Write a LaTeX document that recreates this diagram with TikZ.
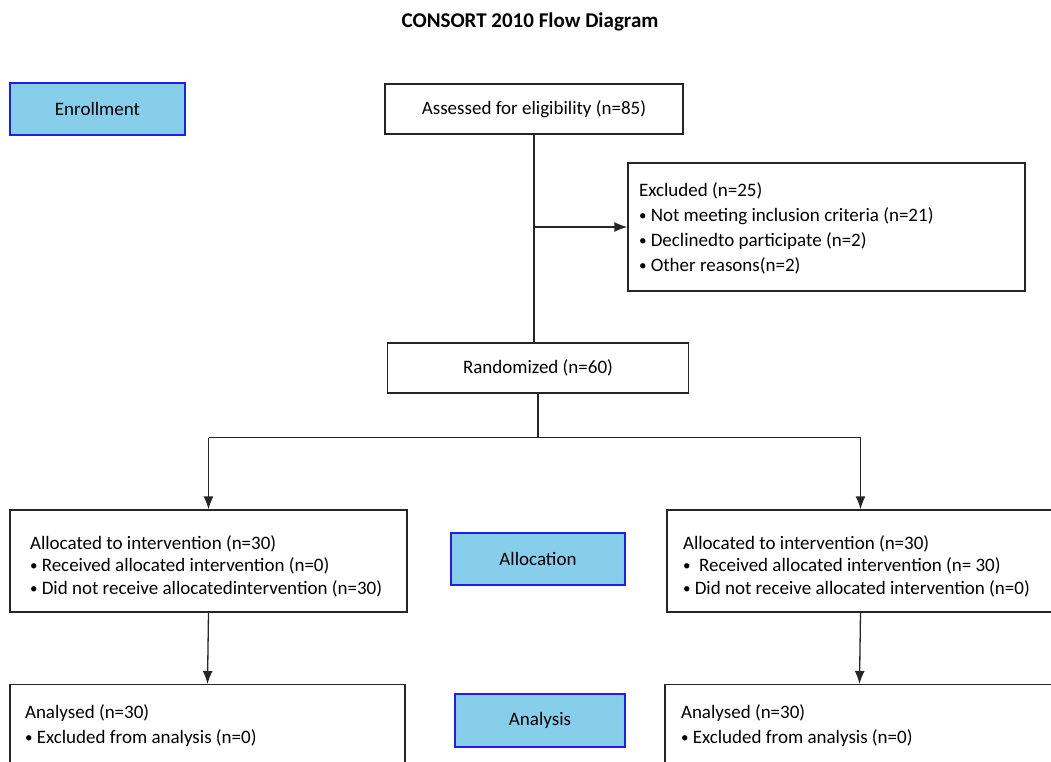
\documentclass[tikz,border=0pt]{standalone}
\usepackage{fontspec}
\setmainfont{Carlito}
\usetikzlibrary{arrows.meta}
\definecolor{phasefill}{HTML}{87CEEB}
\definecolor{phaseline}{HTML}{1E1EF0}
\newcommand{\listdot}{\raisebox{1pt}{\fontsize{15}{15}\selectfont •}}
\tikzset{
  flowbox/.style={draw=black!85, line width=1.3pt, fill=white, inner sep=0pt,
    font=\fontsize{19}{22}\selectfont},
  listbox/.style={flowbox, align=flush left, text width=#1},
  phasebox/.style={draw=phaseline, line width=1.3pt, fill=phasefill, inner sep=0pt,
    font=\fontsize{19}{22}\selectfont},
  flowline/.style={line width=1.3pt, black!85},
  flowarrow/.style={flowline, -{Latex[length=13pt,width=10pt]}}
}
\begin{document}
\begin{tikzpicture}[x=1pt,y=-1pt]
    \useasboundingbox (0,0) rectangle (1051,761);
    \clip (0,0) rectangle (1051,761);
    % Title
    \node[font=\fontsize{21}{24}\selectfont\bfseries] (title) at (530,22) {CONSORT 2010 Flow Diagram};
    % Phase labels
    \node[phasebox, minimum width=175, minimum height=52] (enroll) at (97.5,109) {Enrollment};
    \node[phasebox, minimum width=174, minimum height=52] (allocation) at (538,559) {Allocation};
    \node[phasebox, minimum width=170, minimum height=53] (analysis) at (540,720.5) {Analysis};
    % Enrollment
    \node[flowbox, minimum width=298, minimum height=50] (assess) at (534,109) {Assessed for eligibility (n=85)};
    \node[listbox=375, minimum width=397, minimum height=128, inner xsep=11,
          font=\fontsize{19}{25}\selectfont] (excl) at (826.5,227)
        {\rule{0pt}{16pt}Excluded (n=25)\\
         \listdot{} Not meeting inclusion criteria (n=21)\\
         \listdot{} Declinedto participate (n=2)\\
         \listdot{} Other reasons(n=2)};
    \node[flowbox, minimum width=301, minimum height=50] (rand) at (538,368) {Randomized (n=60)};
    % Allocation
    \node[listbox=357, minimum width=397, minimum height=102, inner xsep=20,
          font=\fontsize{19}{22.5}\selectfont] (allocL) at (208.5,561)
        {\rule{0pt}{24pt}Allocated to intervention (n=30)\\
         \listdot{} Received allocated intervention (n=0)\\
         \listdot{} Did not receive allocatedintervention (n=30)};
    \node[listbox=355, minimum width=387, minimum height=102, inner xsep=16,
          font=\fontsize{19}{22.5}\selectfont] (allocR) at (860.5,561)
        {\rule{0pt}{24pt}Allocated to intervention (n=30)\\
         \listdot\ \ Received allocated intervention (n= 30)\\
         \listdot{} Did not receive allocated intervention (n=0)};
    % Analysis
    \node[listbox=365, minimum width=395, minimum height=82, inner xsep=15,
          font=\fontsize{19}{25}\selectfont, anchor=north] (anaL) at (207.5,684)
        {Analysed (n=30)\\
         \listdot{} Excluded from analysis (n=0)};
    \node[listbox=357, minimum width=389, minimum height=82, inner xsep=16,
          font=\fontsize{19}{25}\selectfont, anchor=north] (anaR) at (859.5,684)
        {Analysed (n=30)\\
         \listdot{} Excluded from analysis (n=0)};
    % Connectors
    \draw[flowline] (assess.south) -- (assess.south |- rand.north);
    \draw[flowarrow] (assess.south |- excl.west) -- (excl.west);
    \draw[flowline] (rand.south) -- ++(0,44) coordinate (split);
    \draw[flowline] (split -| allocL.north) -- (split -| allocR.north);
    \draw[flowarrow] (split -| allocL.north) -- (allocL.north);
    \draw[flowarrow] (split -| allocR.north) -- (allocR.north);
    \draw[flowarrow] (allocL.south) -- (anaL.north);
    \draw[flowarrow] (allocR.south) -- (anaR.north);
\end{tikzpicture}
\end{document}
